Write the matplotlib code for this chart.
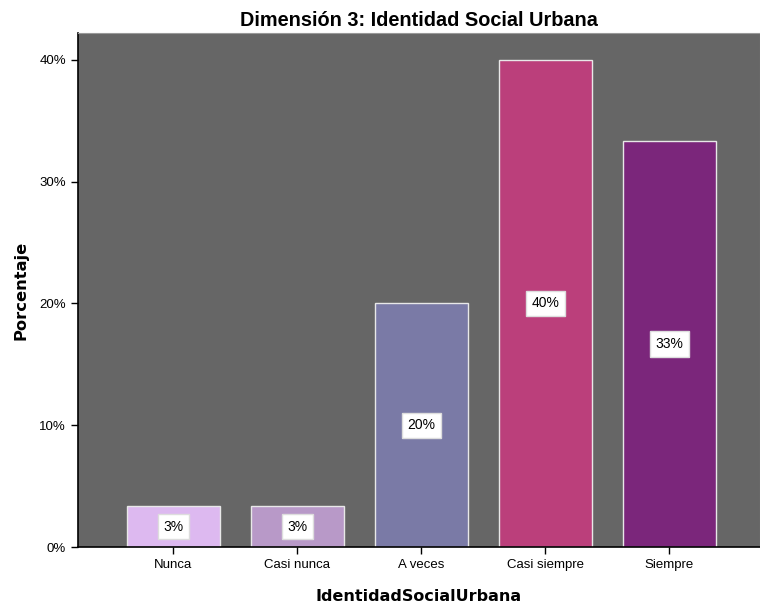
import matplotlib
matplotlib.use("Agg")
import matplotlib.pyplot as plt
from matplotlib.ticker import FuncFormatter

plt.rcParams["font.family"] = ["Liberation Sans", "DejaVu Sans"]

# datos
categorias = ["Nunca", "Casi nunca", "A veces", "Casi siempre", "Siempre"]
porcentajes = [3.33, 3.33, 20.0, 40.0, 33.33]
etiquetas = ["3%", "3%", "20%", "40%", "33%"]
colores = ["#DDB9F0", "#B899C8", "#7A7AA6", "#BB3F7B", "#7B267B"]

fig = plt.figure(figsize=(7.6, 6.05), dpi=100)
ax = fig.add_axes([78 / 760, 1 - 547 / 605, 682 / 760, 514 / 605])
ax.set_facecolor("#666666")

x = range(len(categorias))
ax.bar(x, porcentajes, width=0.75, color=colores, edgecolor="#E8E8E8", linewidth=1)

for i, (v, t) in enumerate(zip(porcentajes, etiquetas)):
    ax.text(i, v / 2, t, ha="center", va="center", fontsize=10,
            bbox=dict(facecolor="white", edgecolor="#DDDDDD", boxstyle="square,pad=0.4"))

ax.set_xlim(-0.77, 4.73)
ax.set_ylim(0, 42.2)
ax.set_yticks([0, 10, 20, 30, 40])
ax.yaxis.set_major_formatter(FuncFormatter(lambda v, p: f"{v:.0f}%"))
ax.set_xticks(list(x))
ax.set_xticklabels(categorias)
ax.tick_params(labelsize=9.5, length=5, width=1)

for s in ["top", "right"]:
    ax.spines[s].set_color("#999999")
ax.spines["left"].set_linewidth(1.2)
ax.spines["bottom"].set_linewidth(1.2)

ax.set_title("Dimensión 3: Identidad Social Urbana", fontsize=14.3, fontweight="bold", pad=5)
ax.set_xlabel("IdentidadSocialUrbana", fontsize=11.5, fontweight="bold", labelpad=13,
              family=["DejaVu Sans"])
ax.set_ylabel("Porcentaje", fontsize=11.7, fontweight="bold", labelpad=8,
              family=["DejaVu Sans"])

fig.savefig("out.png", dpi=100)
